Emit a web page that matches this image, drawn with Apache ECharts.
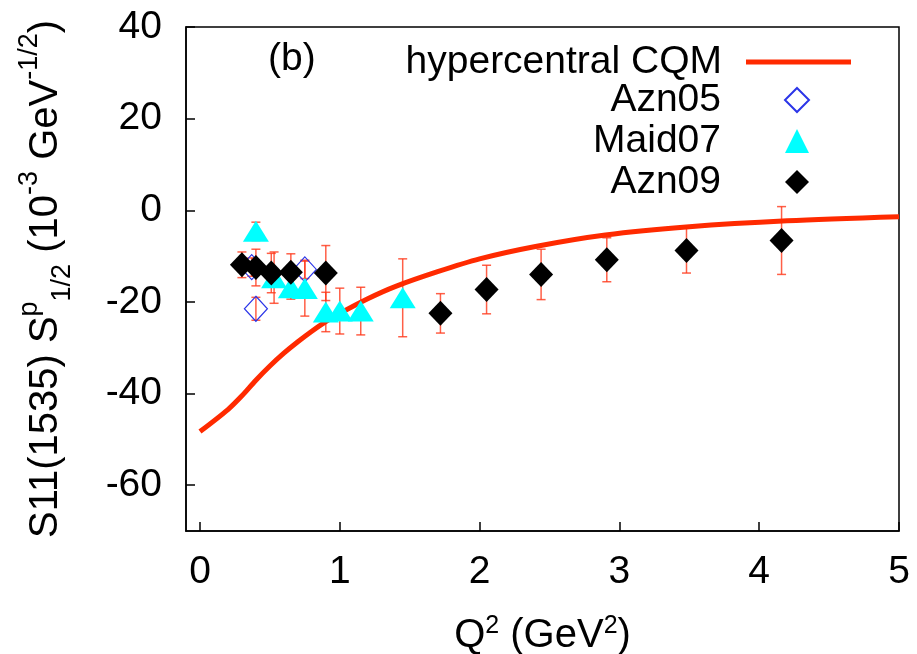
<!DOCTYPE html>
<html>
<head>
<meta charset="utf-8">
<script src="https://cdn.jsdelivr.net/npm/echarts@6/dist/echarts.min.js"></script>
<style>
html,body{margin:0;padding:0;background:#fff;}
#chart{width:917px;height:654px;}
</style>
</head>
<body>
<div id="chart"></div>
<script>
// ---- data ----
const xTicks = [0, 1, 2, 3, 4, 5];
const yTicks = [-60, -40, -20, 0, 20, 40];

// hypercentral CQM curve
const cqmQ2 = [0, 0.2, 0.3, 0.4, 0.5, 0.6, 0.7, 0.8, 0.9, 1.0, 1.2, 1.4, 1.7, 2.0, 2.4, 2.9, 3.5, 4.2, 5.0];
const cqmS  = [-48.3, -43.5, -40.5, -37.1, -34.0, -31.2, -28.7, -26.4, -24.3, -22.5, -19.3, -16.6, -13.4, -10.6, -7.9, -5.4, -3.6, -2.3, -1.4];

// Azn05 (open diamonds)
const azn05Q2  = [0.37, 0.40, 0.75];
const azn05S   = [-12.4, -21.5, -12.9];
const azn05Err = [2.0, 2.5, 2.0];

// Maid07 (triangles)
const maidQ2  = [0.40, 0.53, 0.65, 0.75, 0.90, 1.00, 1.15, 1.45];
const maidS   = [-4.6, -14.7, -16.9, -17.1, -22.2, -22.0, -22.0, -19.1];
const maidErr = [2.0, 5.6, 2.5, 6.0, 4.3, 5.0, 5.2, 8.5];

// Azn09 (filled diamonds)
const azn09Q2  = [0.30, 0.40, 0.51, 0.65, 0.90, 1.72, 2.05, 2.44, 2.91, 3.48, 4.16];
const azn09S   = [-11.9, -12.5, -13.7, -13.5, -13.7, -22.5, -17.3, -14.0, -10.8, -8.8, -6.6];
const azn09Err = [2.8, 4.0, 4.3, 4.0, 6.0, 4.3, 5.3, 5.5, 4.8, 4.9, 7.4];

// ---- chart ----
const FONT = "'Liberation Sans', Arial, Helvetica, sans-serif";
const ERR_COLOR = 'rgba(255,55,25,0.8)';

function pairs(xs, ys) { return xs.map((x, i) => [x, ys[i]]); }
function errData(xs, ys, es) { return xs.map((x, i) => [x, ys[i] - es[i], ys[i] + es[i]]); }

function errSeries(name, xs, ys, es, z) {
  return {
    name: name,
    type: 'custom',
    z: z,
    silent: true,
    encode: { x: 0, y: [1, 2] },
    data: errData(xs, ys, es),
    renderItem: function (params, api) {
      const x = api.value(0);
      const lo = api.coord([x, api.value(1)]);
      const hi = api.coord([x, api.value(2)]);
      const w = 4.5;
      const st = { stroke: ERR_COLOR, lineWidth: 1.5 };
      return {
        type: 'group',
        children: [
          { type: 'line', shape: { x1: lo[0], y1: lo[1], x2: hi[0], y2: hi[1] }, style: st },
          { type: 'line', shape: { x1: lo[0] - w, y1: lo[1], x2: lo[0] + w, y2: lo[1] }, style: st },
          { type: 'line', shape: { x1: hi[0] - w, y1: hi[1], x2: hi[0] + w, y2: hi[1] }, style: st }
        ]
      };
    }
  };
}

const chart = echarts.init(document.getElementById('chart'), null, { renderer: 'canvas' });

const axisLabelStyle = { fontFamily: FONT, fontSize: 39, color: '#000', lineHeight: 40 };

chart.setOption({
  animation: false,
  backgroundColor: '#fff',
  title: {
    text: '(b)', left: 268, top: 40, padding: 0,
    textStyle: { fontFamily: FONT, fontSize: 39, fontWeight: 'normal', color: '#000' }
  },
  legend: [
    {
      data: ['hypercentral CQM'],
      orient: 'vertical', align: 'right',
      right: 66, top: 42, padding: 0,
      icon: 'rect',
      itemWidth: 105, itemHeight: 5,
      textStyle: { fontFamily: FONT, fontSize: 39, color: '#000', lineHeight: 40, padding: [0, 19, 0, 0] },
      selectedMode: false
    },
    {
      data: ['Azn05', 'Maid07', 'Azn09'],
      orient: 'vertical', align: 'right',
      right: 107, top: 80, padding: 0, itemGap: 1,
      itemWidth: 24, itemHeight: 24,
      textStyle: { fontFamily: FONT, fontSize: 39, color: '#000', lineHeight: 40, padding: [0, 59, 0, 0] },
      selectedMode: false
    }
  ],
  grid: {
    left: 186, right: 18, top: 27, bottom: 123,
    containLabel: false, outerBoundsMode: 'none',
    show: true, borderColor: '#000', borderWidth: 1.5, backgroundColor: 'transparent'
  },
  xAxis: {
    type: 'value', min: -0.1, max: 5,
    name: '{a|Q}{sup|2}{a| (GeV}{sup|2}{a|)}',
    nameLocation: 'middle', nameGap: 83,
    nameTextStyle: {
      fontFamily: FONT, color: '#000',
      rich: {
        a: { fontFamily: FONT, fontSize: 40, lineHeight: 44, verticalAlign: 'middle', color: '#000' },
        sup: { fontFamily: FONT, fontSize: 25, lineHeight: 24, verticalAlign: 'top', color: '#000' }
      }
    },
    axisLine: { show: true, onZero: false, lineStyle: { color: '#000', width: 1.5 } },
    axisTick: { show: true, inside: true, length: 9, lineStyle: { color: '#000', width: 1.5 }, customValues: xTicks },
    axisLabel: Object.assign({ margin: 21, customValues: xTicks, showMinLabel: true, showMaxLabel: true }, axisLabelStyle),
    splitLine: { show: false }
  },
  yAxis: {
    type: 'value', min: -70, max: 40,
    name: '{a|S11(1535) S}{sup|p}{sub|1/2}{a| (10}{sup|-3}{a| GeV}{sup|-1/2}{a|)}',
    nameLocation: 'middle', nameGap: 110, nameRotate: 90,
    nameTextStyle: {
      fontFamily: FONT, color: '#000',
      rich: {
        a: { fontFamily: FONT, fontSize: 40, lineHeight: 60, verticalAlign: 'middle', color: '#000' },
        sup: { fontFamily: FONT, fontSize: 27, lineHeight: 40, verticalAlign: 'top', color: '#000' },
        sub: { fontFamily: FONT, fontSize: 27, lineHeight: 24, verticalAlign: 'bottom', color: '#000' }
      }
    },
    axisLine: { show: true, onZero: false, lineStyle: { color: '#000', width: 1.5 } },
    axisTick: { show: true, inside: true, length: 9, lineStyle: { color: '#000', width: 1.5 }, customValues: yTicks },
    axisLabel: Object.assign({ margin: 24, customValues: yTicks, showMinLabel: true, showMaxLabel: true }, axisLabelStyle),
    splitLine: { show: false }
  },
  series: [
    errSeries('err05', azn05Q2, azn05S, azn05Err, 2),
    errSeries('errMaid', maidQ2, maidS, maidErr, 2),
    errSeries('err09', azn09Q2, azn09S, azn09Err, 2),
    {
      name: 'hypercentral CQM', type: 'line', z: 3,
      data: pairs(cqmQ2, cqmS),
      smooth: 0.3, symbol: 'none', showSymbol: false,
      lineStyle: { color: '#ff2a00', width: 5, opacity: 1 },
      itemStyle: { color: '#ff2a00', opacity: 1 }
    },
    {
      name: 'Azn05', type: 'scatter', z: 4,
      data: pairs(azn05Q2, azn05S),
      symbol: 'diamond', symbolSize: [23, 25],
      itemStyle: { color: 'rgba(255,255,255,0)', borderColor: '#2b35e8', borderWidth: 1.2, opacity: 1 }
    },
    {
      name: 'Maid07', type: 'scatter', z: 5,
      data: pairs(maidQ2, maidS),
      symbol: 'triangle', symbolSize: [26, 21],
      itemStyle: { color: '#00ffff', opacity: 1 }
    },
    {
      name: 'Azn09', type: 'scatter', z: 6,
      data: pairs(azn09Q2, azn09S),
      symbol: 'diamond', symbolSize: [24, 25],
      itemStyle: { color: '#000', opacity: 1 }
    }
  ]
});
</script>
</body>
</html>
